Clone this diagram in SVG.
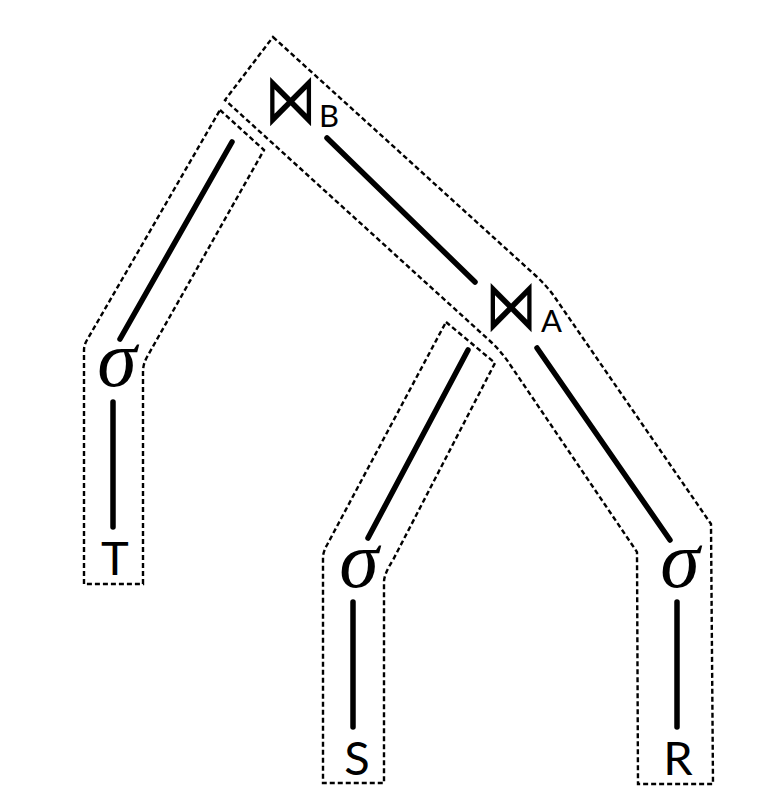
<svg xmlns="http://www.w3.org/2000/svg" width="772" height="799" viewBox="0 0 772 799">
<style>
.region{fill:none;stroke:#000;stroke-width:2.4;stroke-dasharray:5 3}
.edge{stroke:#000;stroke-width:5.5;stroke-linecap:round;fill:none}
.rel{font-family:Lato,"Open Sans",sans-serif;font-size:47px;fill:#000;text-anchor:middle}
.sub{font-family:Lato,"Open Sans",sans-serif;font-size:31px;fill:#000}
.sig{font-family:"Liberation Serif",serif;font-style:italic;font-size:80px;fill:#000;text-anchor:middle}
.join{font-family:"DejaVu Sans",sans-serif;font-size:56px;fill:#000;text-anchor:middle}
</style>
<rect width="772" height="799" fill="#fff"/>
<g id="regions">
<path class="region" d="M273,37 L536,276 Q548,287 556,299 L711,524 L713,784 L638,784 L637,552 L511,366 Q502,352 490,341 L225,100 Z"/>
<path class="region" d="M220,110 L264,150 L147,357 Q143,364 143,372 L143,584 L84,584 L84,350 Q84,345 87,340 Z"/>
<path class="region" d="M446,322 L495,363 L393,560 Q384,574 384,582 L384,783 L323,783 L323,556 Q324,550 327,545 Z"/>
</g>
<g id="connectors">
<line class="edge" x1="232" y1="142" x2="120" y2="339"/>
<line class="edge" x1="113" y1="402" x2="113" y2="527"/>
<line class="edge" x1="327" y1="138" x2="475" y2="282"/>
<line class="edge" x1="468" y1="350" x2="368" y2="538"/>
<line class="edge" x1="353" y1="602" x2="353" y2="727"/>
<line class="edge" x1="537" y1="348" x2="670" y2="540"/>
<line class="edge" x1="677" y1="602" x2="677" y2="727"/>
</g>
<g id="joinB"><text class="join" transform="translate(290.5,124) scale(0.93,1.28)">⋈</text><text class="sub" x="319" y="127">B</text></g>
<g id="joinA"><text class="join" transform="translate(511,330) scale(0.93,1.28)">⋈</text><text class="sub" x="541" y="332">A</text></g>
<g id="selT"><text class="sig" x="117" y="386">σ</text></g>
<g id="selS"><text class="sig" x="359" y="587">σ</text></g>
<g id="selR"><text class="sig" x="680" y="587">σ</text></g>
<g id="relT"><text class="rel" x="115" y="575">T</text></g>
<g id="relS"><text class="rel" x="357" y="775">S</text></g>
<g id="relR"><text class="rel" x="678" y="775">R</text></g>
</svg>
